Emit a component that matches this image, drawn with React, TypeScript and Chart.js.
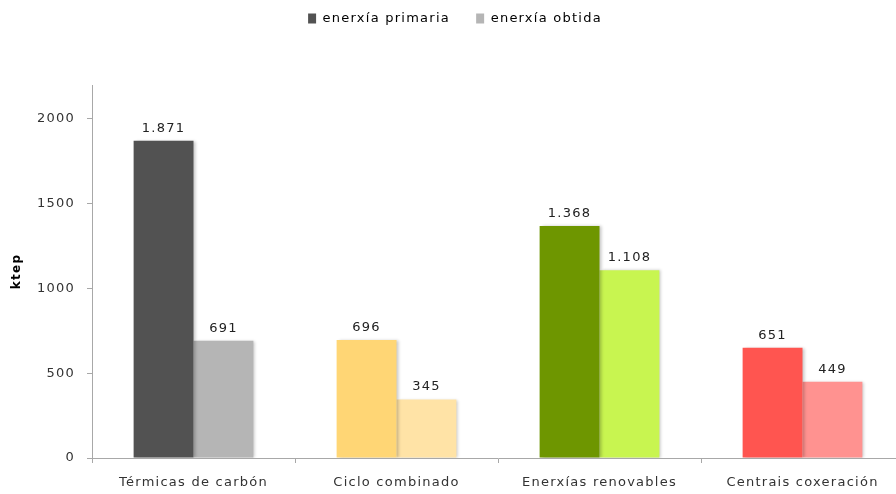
import React, { useEffect, useRef } from "react";
import { Chart, registerables } from "chart.js";

Chart.register(...registerables);

const categories = ["Térmicas de carbón", "Ciclo combinado", "Enerxías renovables", "Centrais coxeración"];
const primaria = [1871, 696, 1368, 651];
const obtida = [691, 345, 1108, 449];
const seriesNames = ["enerxía primaria", "enerxía obtida"];
const primariaColors = ["#525252", "#FFD675", "#6E9600", "#FF5550"];
const obtidaColors = ["#B5B5B5", "#FFE3A6", "#C8F550", "#FF9290"];
const yTicks = [0, 500, 1000, 1500, 2000];

const fmt = (n: number) => {
  const s = String(Math.round(n));
  return s.replace(/\B(?=(\d{3})+(?!\d))/g, ".");
};

const FONT = "'DejaVu Sans', Verdana, sans-serif";
const SPACING = "1.25px";

const spacingPlugin = {
  id: "letterSpacing",
  beforeInit(chart: any) {
    (chart.ctx as any).letterSpacing = SPACING;
    const legend = chart.legend;
    if (legend) {
      const fit = legend.fit;
      legend.fit = function () {
        fit.call(this);
        this.height = 83;
      };
    }
  },
  beforeUpdate(chart: any) {
    (chart.ctx as any).letterSpacing = SPACING;
  },
  beforeDraw(chart: any) {
    (chart.ctx as any).letterSpacing = SPACING;
  },
  beforeDatasetDraw(chart: any) {
    const ctx = chart.ctx;
    ctx.save();
    ctx.shadowColor = "rgba(0,0,0,0.22)";
    ctx.shadowBlur = 3;
    ctx.shadowOffsetX = 2;
    ctx.shadowOffsetY = 0;
  },
  afterDatasetDraw(chart: any) {
    chart.ctx.restore();
  },
};

const labelsPlugin = {
  id: "valueLabels",
  afterDatasetsDraw(chart: any) {
    const ctx = chart.ctx;
    ctx.save();
    ctx.font = `13px ${FONT}`;
    ctx.fillStyle = "#222";
    ctx.textAlign = "center";
    ctx.textBaseline = "bottom";
    chart.data.datasets.forEach((ds: any, di: number) => {
      const meta = chart.getDatasetMeta(di);
      meta.data.forEach((bar: any, i: number) => {
        ctx.fillText(fmt(ds.data[i]), bar.x, bar.y - 6);
      });
    });
    ctx.restore();
  },
};

export default function App() {
  const ref = useRef<HTMLCanvasElement>(null);
  useEffect(() => {
    if (!ref.current) return;
    const chart = new Chart(ref.current, {
      type: "bar",
      data: {
        labels: categories,
        datasets: [
          { label: seriesNames[0], data: primaria, backgroundColor: primariaColors },
          { label: seriesNames[1], data: obtida, backgroundColor: obtidaColors },
        ],
      },
      options: {
        animation: false,
        responsive: false,
        maintainAspectRatio: false,
        layout: { padding: { top: 2, left: 6, right: 0, bottom: 0 } },
        datasets: { bar: { categoryPercentage: 0.59, barPercentage: 1.0 } },
        plugins: {
          legend: {
            position: "top",
            labels: {
              color: "#404040",
              font: { family: FONT, size: 13 },
              boxWidth: 8,
              boxHeight: 10,
              padding: 10,
              generateLabels: () =>
                seriesNames.map((n, i) => ({
                  text: i === 0 ? n + "   " : n,
                  fillStyle: i === 0 ? primariaColors[0] : obtidaColors[0],
                  strokeStyle: "transparent",
                  lineWidth: 0,
                  datasetIndex: i,
                  hidden: false,
                })),
            },
          },
          tooltip: { enabled: false },
        },
        scales: {
          x: {
            afterFit: (s: any) => {
              s.height = 36;
            },
            grid: { offset: true, drawOnChartArea: false, tickLength: 5, color: "#A8A8A8" },
            border: { color: "#A8A8A8" },
            ticks: { color: "#333", font: { family: FONT, size: 13 }, padding: 12, maxRotation: 0 },
          },
          y: {
            min: 0,
            max: 2200,
            afterBuildTicks: (s: any) => {
              s.ticks = yTicks.map((v) => ({ value: v }));
            },
            afterFit: (s: any) => {
              s.width = 86;
            },
            grid: { drawOnChartArea: false, tickLength: 5, color: "#A8A8A8" },
            border: { color: "#A8A8A8" },
            ticks: {
              color: "#333",
              font: { family: FONT, size: 13 },
              padding: 12,
              callback: (v: any) => String(v),
            },
            title: { display: true, text: "ktep", color: "#000", font: { family: FONT, size: 12, weight: "bold" } },
          },
        },
      },
      plugins: [spacingPlugin, labelsPlugin],
    });
    return () => chart.destroy();
  }, []);
  return (
    <div style={{ position: "fixed", left: 0, top: 0, width: 896, height: 494, overflow: "hidden", background: "#fff" }}>
      <canvas ref={ref} width={904} height={494} style={{ position: "absolute", left: 0, top: 0, width: 904, height: 494 }} />
    </div>
  );
}
